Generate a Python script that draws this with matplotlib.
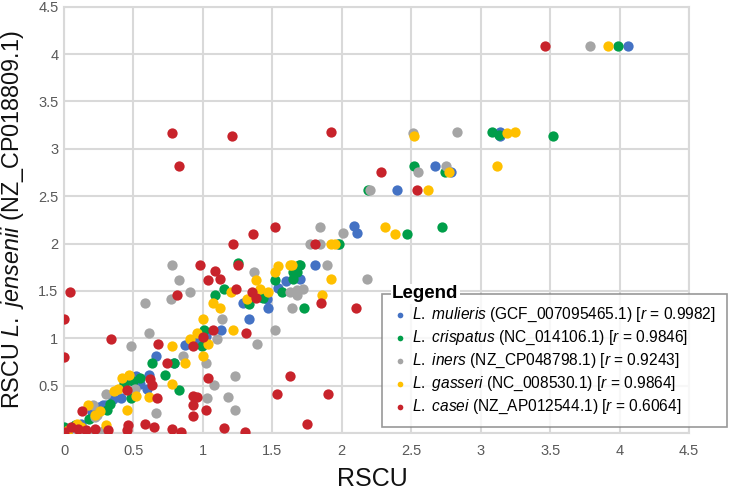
import matplotlib
matplotlib.use("Agg")
import matplotlib.pyplot as plt

plt.rcParams["font.family"] = ["Liberation Sans", "DejaVu Sans"]
plt.rcParams["mathtext.fontset"] = "custom"
plt.rcParams["mathtext.rm"] = "Liberation Sans"
plt.rcParams["mathtext.it"] = "Liberation Sans:italic"

# -------------------------------
# Data (RSCU pairs)
# -------------------------------
mulieris_x = [4.06, 3.14, 3.14, 2.67, 2.79, 2.40, 2.09, 2.11, 1.81, 1.70, 1.54, 1.46, 1.47,
              1.29, 1.33, 1.13, 0.87, 0.79, 0.66, 0.61, 0.60, 0.55, 0.43, 0.41, 0.28, 0.30,
              0.12, 0.05, 0.47, 0.52, 0.95, 1.02, 0.20, 0.25, 1.60, 1.97, 0.35, 1.42]
mulieris_y = [4.09, 3.18, 3.13, 2.82, 2.76, 2.56, 2.18, 2.11, 1.77, 1.63, 1.53, 1.41, 1.32,
              1.37, 1.20, 1.09, 0.93, 0.74, 0.81, 0.61, 0.46, 0.52, 0.55, 0.37, 0.30, 0.30,
              0.10, 0.05, 0.56, 0.60, 0.97, 1.02, 0.22, 0.27, 1.60, 1.99, 0.36, 1.44]

crispatus_x = [3.99, 3.08, 3.13, 3.52, 2.52, 2.74, 2.19, 2.47, 2.72, 1.98, 1.69, 1.65, 1.65,
               1.70, 1.68, 1.73, 1.52, 1.57, 1.43, 1.33, 1.15, 1.09, 1.25, 1.01, 0.99, 0.73,
               0.83, 0.63, 0.55, 0.48, 0.31, 0.33, 0.00, 0.50, 0.79, 0.43, 0.08, 0.18]
crispatus_y = [4.09, 3.18, 3.15, 3.13, 2.82, 2.76, 2.56, 2.10, 2.17, 1.99, 1.77, 1.70, 1.63,
               1.77, 1.70, 1.32, 1.62, 1.49, 1.42, 1.36, 1.52, 1.46, 1.79, 1.09, 0.92, 0.61,
               0.45, 0.74, 0.58, 0.37, 0.24, 0.31, 0.06, 0.55, 0.74, 0.52, 0.08, 0.15]

iners_x = [3.79, 2.51, 2.83, 2.75, 2.55, 2.20, 1.84, 2.01, 1.77, 1.84, 1.89, 2.18, 1.68,
           1.72, 1.68, 1.63, 1.64, 1.52, 1.37, 1.39, 1.14, 1.10, 1.02, 0.86, 0.78, 0.83,
           0.91, 0.77, 0.58, 0.61, 0.48, 1.08, 1.23, 1.03, 1.18, 1.23, 0.66, 0.51, 0.30,
           0.21, 0.22, 0.24, 0.10, 0.22, 0.28]
iners_y = [4.09, 3.17, 3.18, 2.82, 2.76, 2.56, 2.17, 2.11, 1.99, 1.99, 1.77, 1.63, 1.51,
           1.52, 1.46, 1.49, 1.32, 1.09, 1.70, 0.94, 1.20, 0.99, 0.74, 0.81, 1.77, 1.62,
           1.49, 1.41, 1.37, 1.06, 0.92, 0.51, 0.60, 0.37, 0.38, 0.24, 0.21, 0.46, 0.41,
           0.30, 0.17, 0.19, 0.03, 0.01, 0.02]

gasseri_x = [3.92, 2.52, 3.19, 3.25, 3.12, 2.77, 2.62, 2.31, 2.38, 1.92, 1.95, 1.92, 1.86,
             1.64, 1.63, 1.52, 1.54, 1.38, 1.41, 1.47, 1.32, 1.20, 1.07, 1.12, 1.00, 1.22,
             0.96, 0.91, 1.04, 0.78, 1.00, 0.87, 0.78, 0.61, 0.52, 0.45, 0.42, 0.47, 0.36,
             0.39, 0.26, 0.22, 0.17, 0.30, 0.09, 0.03, 0.12]
gasseri_y = [4.09, 3.13, 3.17, 3.18, 2.82, 2.76, 2.56, 2.17, 2.10, 1.99, 1.99, 1.63, 1.46,
             1.77, 1.77, 1.70, 1.76, 1.62, 1.52, 1.49, 1.41, 1.49, 1.37, 1.32, 1.20, 1.09,
             1.06, 0.99, 0.94, 0.92, 0.81, 0.74, 0.52, 0.38, 0.39, 0.24, 0.58, 0.61, 0.44,
             0.46, 0.23, 0.19, 0.30, 0.08, 0.10, 0.03, 0.06]

casei_x = [3.46, 0.78, 0.83, 1.21, 1.92, 2.28, 2.54, 1.36, 1.52, 1.22, 1.81, 1.85, 2.10,
           1.63, 1.53, 1.90, 1.75, 0.98, 1.09, 1.12, 1.04, 1.25, 0.81, 1.24, 1.35, 1.38,
           1.31, 1.07, 1.00, 0.93, 0.68, 0.34, 0.00, 0.00, 0.04, 0.74, 1.04, 0.93, 0.96,
           0.93, 0.93, 1.02, 1.15, 1.30, 0.78, 0.84, 0.58, 0.65, 0.46, 0.45, 0.67, 0.63,
           0.62, 0.45, 0.13, 0.32, 0.00, 0.05, 0.10, 0.16, 0.22]
casei_y = [4.09, 3.17, 2.82, 3.13, 3.18, 2.76, 2.56, 2.10, 2.17, 1.99, 1.99, 1.37, 1.32,
           0.60, 0.41, 0.41, 0.09, 1.77, 1.71, 1.63, 1.62, 1.77, 1.46, 1.52, 1.49, 1.42,
           1.06, 1.09, 1.01, 0.92, 0.94, 0.99, 1.20, 0.80, 1.49, 0.74, 0.58, 0.39, 0.38,
           0.30, 0.18, 0.24, 0.05, 0.01, 0.04, 0.01, 0.10, 0.06, 0.08, 0.03, 0.37, 0.51,
           0.57, 0.45, 0.23, 0.03, 0.01, 0.06, 0.04, 0.03, 0.04]

series = [
    (mulieris_x, mulieris_y, "#4472C4", r"$\it{L.\ mulieris}$ (GCF_007095465.1) [$\it{r}$ = 0.9982]"),
    (crispatus_x, crispatus_y, "#009E49", r"$\it{L.\ crispatus}$ (NC_014106.1) [$\it{r}$ = 0.9846]"),
    (iners_x, iners_y, "#A5A5A5", r"$\it{L.\ iners}$ (NZ_CP048798.1) [$\it{r}$ = 0.9243]"),
    (gasseri_x, gasseri_y, "#FFC000", r"$\it{L.\ gasseri}$ (NC_008530.1) [$\it{r}$ = 0.9864]"),
    (casei_x, casei_y, "#C8232B", r"$\it{L.\ casei}$ (NZ_AP012544.1) [$\it{r}$ = 0.6064]"),
]

# -------------------------------
# Plot
# -------------------------------
fig = plt.figure(figsize=(7.3, 4.91), dpi=100)
ax = fig.add_axes([0.0877, 0.1181, 0.8561, 0.8683])

for xs, ys, color, label in series:
    ax.scatter(xs, ys, s=55, color=color, label=label, linewidths=0, zorder=3)

ax.set_xlim(0, 4.5)
ax.set_ylim(0, 4.5)
ax.set_xticks([0, 0.5, 1, 1.5, 2, 2.5, 3, 3.5, 4, 4.5])
ax.set_xticklabels(["0", "0.5", "1", "1.5", "2", "2.5", "3", "3.5", "4", "4.5"])
ax.set_yticks([0, 0.5, 1, 1.5, 2, 2.5, 3, 3.5, 4, 4.5])
ax.set_yticklabels(["", "0.5", "1", "1.5", "2", "2.5", "3", "3.5", "4", "4.5"])
ax.grid(True, color="#D9D9D9", linewidth=1.5, zorder=0)
ax.set_axisbelow(True)
for sp in ax.spines.values():
    sp.set_color("#D9D9D9")
    sp.set_linewidth(1.5)
ax.tick_params(length=0, labelsize=10.5, labelcolor="#595959")
ax.tick_params(axis="x", pad=8)
ax.tick_params(axis="y", pad=4)

ax.set_xlabel("RSCU", fontsize=18, color="#111111")
ax.xaxis.set_label_coords(0.493, -0.080)
ax.set_ylabel(r"RSCU $\it{L.\ jensenii}$ (NZ_CP018809.1)", fontsize=16.8, color="#111111")
ax.yaxis.set_label_coords(-0.061, 0.5)

leg = ax.legend(loc="upper left", bbox_to_anchor=(382 / 730, 1 - 294 / 491),
                bbox_transform=fig.transFigure, frameon=True, fancybox=False,
                fontsize=11.2, markerscale=0.55, handletextpad=0.35, handlelength=0.8,
                borderpad=0.75, labelspacing=0.3, borderaxespad=0)
leg.get_frame().set_edgecolor("#7F7F7F")
leg.get_frame().set_linewidth(1.2)
leg.set_zorder(5)

fig.text(392 / 730, 1 - 294 / 491, "Legend", fontsize=13.5, fontweight="bold",
         ha="left", va="center", zorder=10,
         bbox=dict(facecolor="white", edgecolor="none", pad=1))

fig.savefig("out.png", dpi=100)
